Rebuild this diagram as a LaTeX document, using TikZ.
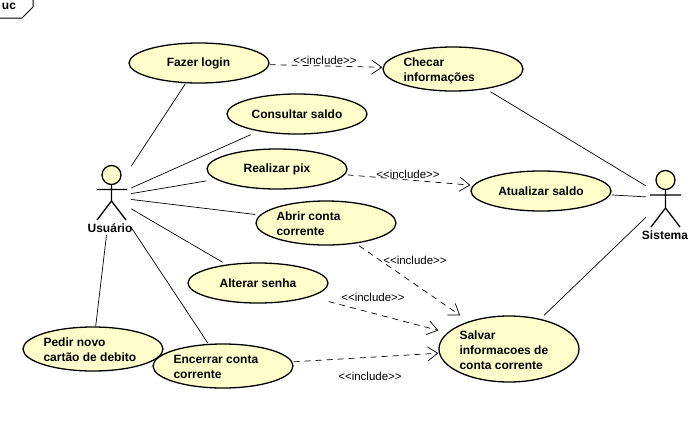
\documentclass[tikz,border=0pt]{standalone}
\usepackage{fontspec}
\setmainfont{Liberation Sans}
\usetikzlibrary{arrows.meta,shapes.geometric}
\definecolor{ucfill}{HTML}{FFFFCC}
\newcommand{\ucleft}[1]{\smash{\makebox[0pt][l]{\hspace*{-49.5pt}\raisebox{-5pt}{\begin{tabular}[c]{@{}l@{}}#1\end{tabular}}}}}
\tikzset{
  usecase/.style={ellipse,draw=black,fill=ucfill,line width=1.3pt,inner sep=0pt,minimum width=140pt,minimum height=#1,
    font=\fontsize{12}{15}\selectfont\bfseries},
  usecase/.default=40pt,
  ucbox/.style={rectangle,draw=none,inner sep=0pt,minimum width=141pt,minimum height=#1},
  ucbox/.default=41pt,
  assoc/.style={draw=black,line width=0.7pt},
  incl/.style={draw=black,line width=0.7pt,dash pattern=on 6pt off 5pt,-{Straight Barb[length=10pt,width=14pt,line width=0.7pt]}},
  incllabel/.style={font=\fontsize{11.5}{13}\selectfont,inner sep=0pt},
  actorbox/.style={rectangle,draw=none,inner sep=0pt,minimum width=40pt,minimum height=76pt},
  actorname/.style={font=\fontsize{12}{15}\selectfont\bfseries,inner sep=0pt},
  actorline/.style={draw=black,line width=1.3pt},
  actorhead/.style={circle,draw=black,fill=ucfill,line width=1.3pt,inner sep=0pt,minimum size=19pt},
  framelabel/.style={font=\fontsize{12}{15}\selectfont\bfseries,inner sep=0pt}
}
\begin{document}
\begin{tikzpicture}[x=1pt,y=-1pt]
\useasboundingbox[fill=white] (0,0) rectangle (694,421);
% frame tag
\draw[line width=1pt] (0,18) -- (22,18) -- (33,7) -- (33,-1);
\node[framelabel] (uc) at (9,6) {uc};
% actors
\node[actorbox] (usuario) at (111,197) {};
\node[actorbox] (sistema) at (666,198) {};
\node[actorhead] (headU) at (111.5,175) {};
\node[actorhead] (headS) at (665.5,180) {};
\draw[actorline] (headU.south) -- (111.5,201) (97,189.5) -- (127,189.5) (97,220) -- (111.5,201) -- (126,220);
\draw[actorline] (headS.south) -- (665.5,208) (650,195) -- (681,195) (651,227) -- (665.5,208) -- (680,227);
\node[actorname] (nameU) at (110,228) {Usuário};
\node[actorname] (nameS) at (665,235) {Sistema};
% use-case boxes (connectors stop on these, as in the reference)
\node[ucbox] (fazer) at (199,63) {};
\node[ucbox] (consultar) at (297,114) {};
\node[ucbox] (pix) at (277,169) {};
\node[ucbox=45pt] (abrir) at (326,223) {};
\node[ucbox] (senha) at (258,283) {};
\node[ucbox=45pt] (pedir) at (93,349) {};
\node[ucbox=45pt] (encerrar) at (223,366) {};
\node[ucbox=45pt] (checar) at (453,69) {};
\node[ucbox] (atualizar) at (541,191) {};
\node[ucbox=67pt] (salvar) at (509,349) {};
% use cases
\node[usecase] (fazerE) at (fazer) {\hspace*{-1pt}Fazer login};
\node[usecase] (consultarE) at (consultar) {Consultar saldo};
\node[usecase] (pixE) at (pix) {Realizar pix};
\node[usecase=44pt] (abrirE) at (abrir) {\ucleft{Abrir conta\\corrente}};
\node[usecase] (senhaE) at (senha) {Alterar senha};
\node[usecase=44pt] (pedirE) at (pedir) {\ucleft{Pedir novo\\cartão de debito}};
\node[usecase=44pt] (encerrarE) at (encerrar) {\ucleft{Encerrar conta\\corrente}};
\node[usecase=44pt] (checarE) at (checar) {\ucleft{Checar\\informações}};
\node[usecase] (atualizarE) at (atualizar) {Atualizar saldo};
\node[usecase=66pt] (salvarE) at (salvar) {\ucleft{Salvar\\informacoes de\\conta corrente}};
% associations
\foreach \t in {fazer,consultar,pix,abrir,senha,pedir,encerrar} \draw[assoc] (usuario) -- (\t);
\foreach \t in {checar,atualizar,salvar} \draw[assoc] (sistema) -- (\t);
% includes
\draw[incl] (fazer) -- (checar);
\draw[incl] (pix) -- (atualizar);
\draw[incl] (abrir) -- (salvar);
\draw[incl] (senha) -- (salvar);
\draw[incl] (encerrar) -- (salvar);
\node[incllabel] (l1) at (325,60) {<{}<include>{}>};
\node[incllabel] (l2) at (408,174) {<{}<include>{}>};
\node[incllabel] (l3) at (415,260) {<{}<include>{}>};
\node[incllabel] (l4) at (373,297) {<{}<include>{}>};
\node[incllabel] (l5) at (370,376) {<{}<include>{}>};
\end{tikzpicture}
\end{document}
